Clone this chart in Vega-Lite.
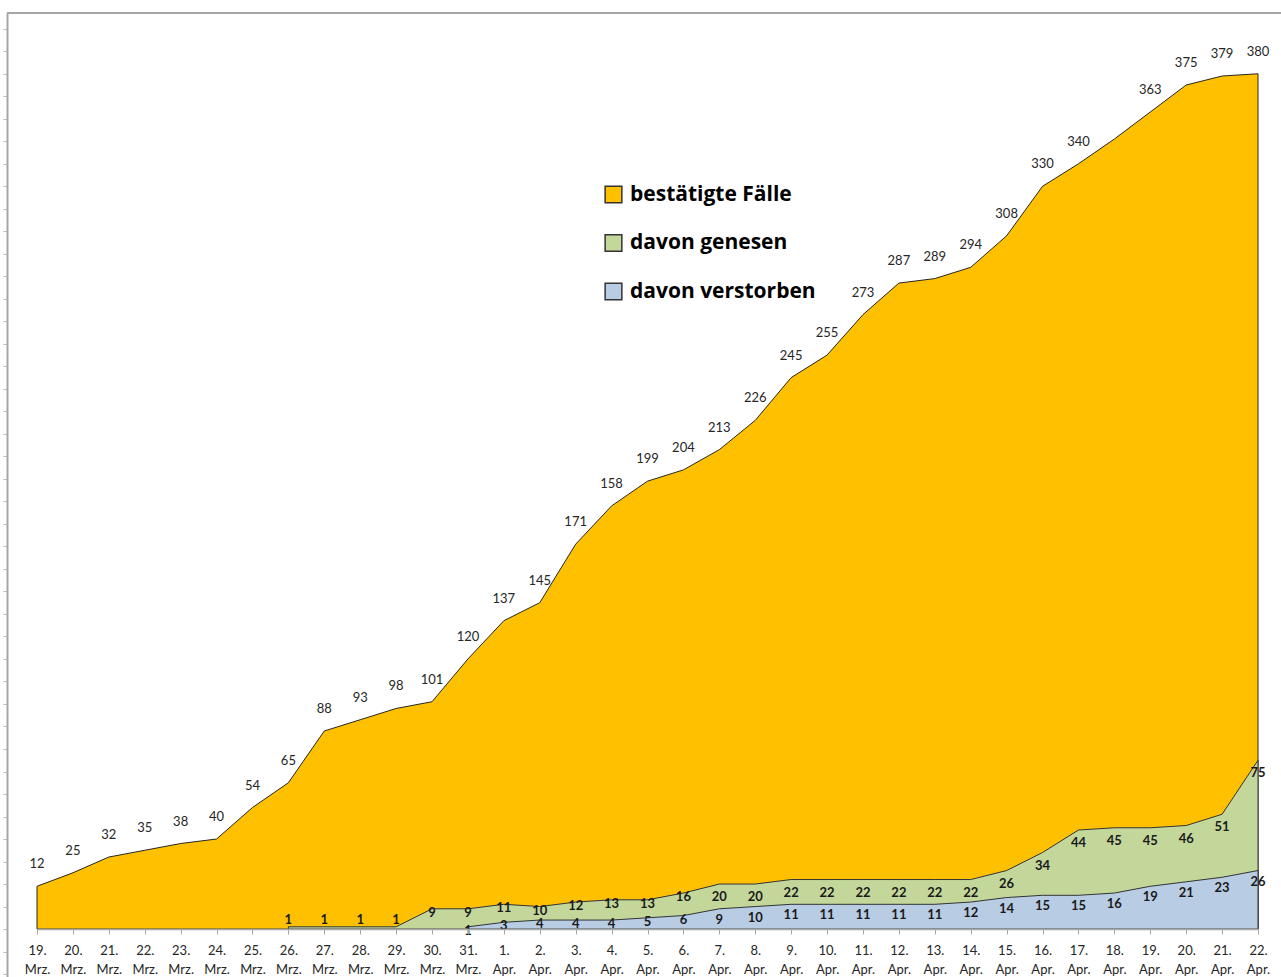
{
  "$schema": "https://vega.github.io/schema/vega-lite/v6.json",
  "width": 1274,
  "height": 964,
  "autosize": {"type": "none"},
  "padding": {"left": 7, "top": 13, "right": 0, "bottom": 0},
  "background": "white",
  "config": {"view": {"stroke": null}, "font": "Lato"},
  "data": {"values": [
    {"date": "19. Mrz.", "series": "bestätigte Fälle", "value": 19, "label": "12"},
    {"date": "20. Mrz.", "series": "bestätigte Fälle", "value": 25, "label": "25"},
    {"date": "21. Mrz.", "series": "bestätigte Fälle", "value": 32, "label": "32"},
    {"date": "22. Mrz.", "series": "bestätigte Fälle", "value": 35, "label": "35"},
    {"date": "23. Mrz.", "series": "bestätigte Fälle", "value": 38, "label": "38"},
    {"date": "24. Mrz.", "series": "bestätigte Fälle", "value": 40, "label": "40"},
    {"date": "25. Mrz.", "series": "bestätigte Fälle", "value": 54, "label": "54"},
    {"date": "26. Mrz.", "series": "bestätigte Fälle", "value": 65, "label": "65"},
    {"date": "27. Mrz.", "series": "bestätigte Fälle", "value": 88, "label": "88"},
    {"date": "28. Mrz.", "series": "bestätigte Fälle", "value": 93, "label": "93"},
    {"date": "29. Mrz.", "series": "bestätigte Fälle", "value": 98, "label": "98"},
    {"date": "30. Mrz.", "series": "bestätigte Fälle", "value": 101, "label": "101"},
    {"date": "31. Mrz.", "series": "bestätigte Fälle", "value": 120, "label": "120"},
    {"date": "1. Apr.", "series": "bestätigte Fälle", "value": 137, "label": "137"},
    {"date": "2. Apr.", "series": "bestätigte Fälle", "value": 145, "label": "145"},
    {"date": "3. Apr.", "series": "bestätigte Fälle", "value": 171, "label": "171"},
    {"date": "4. Apr.", "series": "bestätigte Fälle", "value": 188, "label": "158"},
    {"date": "5. Apr.", "series": "bestätigte Fälle", "value": 199, "label": "199"},
    {"date": "6. Apr.", "series": "bestätigte Fälle", "value": 204, "label": "204"},
    {"date": "7. Apr.", "series": "bestätigte Fälle", "value": 213, "label": "213"},
    {"date": "8. Apr.", "series": "bestätigte Fälle", "value": 226, "label": "226"},
    {"date": "9. Apr.", "series": "bestätigte Fälle", "value": 245, "label": "245"},
    {"date": "10. Apr.", "series": "bestätigte Fälle", "value": 255, "label": "255"},
    {"date": "11. Apr.", "series": "bestätigte Fälle", "value": 273, "label": "273"},
    {"date": "12. Apr.", "series": "bestätigte Fälle", "value": 287, "label": "287"},
    {"date": "13. Apr.", "series": "bestätigte Fälle", "value": 289, "label": "289"},
    {"date": "14. Apr.", "series": "bestätigte Fälle", "value": 294, "label": "294"},
    {"date": "15. Apr.", "series": "bestätigte Fälle", "value": 308, "label": "308"},
    {"date": "16. Apr.", "series": "bestätigte Fälle", "value": 330, "label": "330"},
    {"date": "17. Apr.", "series": "bestätigte Fälle", "value": 340, "label": "340"},
    {"date": "18. Apr.", "series": "bestätigte Fälle", "value": 351, "label": null},
    {"date": "19. Apr.", "series": "bestätigte Fälle", "value": 363, "label": "363"},
    {"date": "20. Apr.", "series": "bestätigte Fälle", "value": 375, "label": "375"},
    {"date": "21. Apr.", "series": "bestätigte Fälle", "value": 379, "label": "379"},
    {"date": "22. Apr.", "series": "bestätigte Fälle", "value": 380, "label": "380"},
    {"date": "26. Mrz.", "series": "davon genesen", "value": 1, "label": "1"},
    {"date": "27. Mrz.", "series": "davon genesen", "value": 1, "label": "1"},
    {"date": "28. Mrz.", "series": "davon genesen", "value": 1, "label": "1"},
    {"date": "29. Mrz.", "series": "davon genesen", "value": 1, "label": "1"},
    {"date": "30. Mrz.", "series": "davon genesen", "value": 9, "label": "9"},
    {"date": "31. Mrz.", "series": "davon genesen", "value": 9, "label": "9"},
    {"date": "1. Apr.", "series": "davon genesen", "value": 11, "label": "11"},
    {"date": "2. Apr.", "series": "davon genesen", "value": 10, "label": "10"},
    {"date": "3. Apr.", "series": "davon genesen", "value": 12, "label": "12"},
    {"date": "4. Apr.", "series": "davon genesen", "value": 13, "label": "13"},
    {"date": "5. Apr.", "series": "davon genesen", "value": 13, "label": "13"},
    {"date": "6. Apr.", "series": "davon genesen", "value": 16, "label": "16"},
    {"date": "7. Apr.", "series": "davon genesen", "value": 20, "label": "20"},
    {"date": "8. Apr.", "series": "davon genesen", "value": 20, "label": "20"},
    {"date": "9. Apr.", "series": "davon genesen", "value": 22, "label": "22"},
    {"date": "10. Apr.", "series": "davon genesen", "value": 22, "label": "22"},
    {"date": "11. Apr.", "series": "davon genesen", "value": 22, "label": "22"},
    {"date": "12. Apr.", "series": "davon genesen", "value": 22, "label": "22"},
    {"date": "13. Apr.", "series": "davon genesen", "value": 22, "label": "22"},
    {"date": "14. Apr.", "series": "davon genesen", "value": 22, "label": "22"},
    {"date": "15. Apr.", "series": "davon genesen", "value": 26, "label": "26"},
    {"date": "16. Apr.", "series": "davon genesen", "value": 34, "label": "34"},
    {"date": "17. Apr.", "series": "davon genesen", "value": 44, "label": "44"},
    {"date": "18. Apr.", "series": "davon genesen", "value": 45, "label": "45"},
    {"date": "19. Apr.", "series": "davon genesen", "value": 45, "label": "45"},
    {"date": "20. Apr.", "series": "davon genesen", "value": 46, "label": "46"},
    {"date": "21. Apr.", "series": "davon genesen", "value": 51, "label": "51"},
    {"date": "22. Apr.", "series": "davon genesen", "value": 75, "label": "75"},
    {"date": "31. Mrz.", "series": "davon verstorben", "value": 1, "label": "1"},
    {"date": "1. Apr.", "series": "davon verstorben", "value": 3, "label": "3"},
    {"date": "2. Apr.", "series": "davon verstorben", "value": 4, "label": "4"},
    {"date": "3. Apr.", "series": "davon verstorben", "value": 4, "label": "4"},
    {"date": "4. Apr.", "series": "davon verstorben", "value": 4, "label": "4"},
    {"date": "5. Apr.", "series": "davon verstorben", "value": 5, "label": "5"},
    {"date": "6. Apr.", "series": "davon verstorben", "value": 6, "label": "6"},
    {"date": "7. Apr.", "series": "davon verstorben", "value": 9, "label": "9"},
    {"date": "8. Apr.", "series": "davon verstorben", "value": 10, "label": "10"},
    {"date": "9. Apr.", "series": "davon verstorben", "value": 11, "label": "11"},
    {"date": "10. Apr.", "series": "davon verstorben", "value": 11, "label": "11"},
    {"date": "11. Apr.", "series": "davon verstorben", "value": 11, "label": "11"},
    {"date": "12. Apr.", "series": "davon verstorben", "value": 11, "label": "11"},
    {"date": "13. Apr.", "series": "davon verstorben", "value": 11, "label": "11"},
    {"date": "14. Apr.", "series": "davon verstorben", "value": 12, "label": "12"},
    {"date": "15. Apr.", "series": "davon verstorben", "value": 14, "label": "14"},
    {"date": "16. Apr.", "series": "davon verstorben", "value": 15, "label": "15"},
    {"date": "17. Apr.", "series": "davon verstorben", "value": 15, "label": "15"},
    {"date": "18. Apr.", "series": "davon verstorben", "value": 16, "label": "16"},
    {"date": "19. Apr.", "series": "davon verstorben", "value": 19, "label": "19"},
    {"date": "20. Apr.", "series": "davon verstorben", "value": 21, "label": "21"},
    {"date": "21. Apr.", "series": "davon verstorben", "value": 23, "label": "23"},
    {"date": "22. Apr.", "series": "davon verstorben", "value": 26, "label": "26"}
  ]},
  "layer": [
    {
      "encoding": {
        "x": {
          "field": "date", "type": "ordinal",
          "scale": {"type": "point", "padding": 0, "range": [30, 1251], "domain": ["19. Mrz.", "20. Mrz.", "21. Mrz.", "22. Mrz.", "23. Mrz.", "24. Mrz.", "25. Mrz.", "26. Mrz.", "27. Mrz.", "28. Mrz.", "29. Mrz.", "30. Mrz.", "31. Mrz.", "1. Apr.", "2. Apr.", "3. Apr.", "4. Apr.", "5. Apr.", "6. Apr.", "7. Apr.", "8. Apr.", "9. Apr.", "10. Apr.", "11. Apr.", "12. Apr.", "13. Apr.", "14. Apr.", "15. Apr.", "16. Apr.", "17. Apr.", "18. Apr.", "19. Apr.", "20. Apr.", "21. Apr.", "22. Apr."]},
          "axis": {"title": null, "labelAngle": 0, "labelExpr": "split(datum.label, ' ')", "labelFont": "Lato", "labelFontSize": 13, "labelColor": "#262626", "labelLineHeight": 19, "labelPadding": 10, "tickSize": 5, "tickColor": "#a6a6a6", "domainColor": "#a6a6a6", "domainWidth": 1.5, "offset": -48, "zindex": 1, "grid": false}
        },
        "y": {
          "field": "value", "type": "quantitative",
          "scale": {"domain": [-21.3, 407], "nice": false, "zero": false},
          "axis": {"title": null, "labels": false, "grid": false, "tickCount": 43, "tickSize": 4, "tickColor": "#bfbfbf", "domainColor": "#a6a6a6", "domainWidth": 2}
        }
      },
      "layer": [
        {
          "transform": [{"filter": "datum.series === 'bestätigte Fälle'"}],
          "mark": {"type": "area", "stroke": "#262626", "strokeWidth": 1, "fillOpacity": 1},
          "encoding": {
            "y2": {"datum": 0},
            "color": {"field": "series", "type": "nominal",
              "scale": {"domain": ["bestätigte Fälle", "davon genesen", "davon verstorben"], "range": ["#FFC000", "#C4D79B", "#B8CCE4"]},
              "legend": {"title": null, "orient": "none", "legendX": 596, "legendY": 171, "symbolType": "square", "symbolSize": 280, "symbolStrokeColor": "#404040", "symbolStrokeWidth": 1.5, "symbolOpacity": 1, "labelFont": "Open Sans", "labelFontSize": 21, "labelFontWeight": "bold", "labelColor": "#000000", "labelOffset": 6, "rowPadding": 25.5, "padding": 0, "labelLimit": 400}}
          }
        },
        {
          "transform": [{"filter": "datum.series === 'davon genesen'"}],
          "mark": {"type": "area", "stroke": "#333333", "strokeWidth": 1, "fillOpacity": 1},
          "encoding": {
            "y2": {"datum": 0},
            "color": {"field": "series", "type": "nominal",
              "scale": {"domain": ["bestätigte Fälle", "davon genesen", "davon verstorben"], "range": ["#FFC000", "#C4D79B", "#B8CCE4"]}}
          }
        },
        {
          "transform": [{"filter": "datum.series === 'davon verstorben'"}],
          "mark": {"type": "area", "stroke": "#333333", "strokeWidth": 1, "fillOpacity": 1},
          "encoding": {
            "y2": {"datum": 0},
            "color": {"field": "series", "type": "nominal",
              "scale": {"domain": ["bestätigte Fälle", "davon genesen", "davon verstorben"], "range": ["#FFC000", "#C4D79B", "#B8CCE4"]}}
          }
        },
        {
          "transform": [{"filter": "datum.series === 'bestätigte Fälle' && isValid(datum.label)"}],
          "mark": {"type": "text", "font": "Lato", "fontSize": 13, "color": "#262626", "baseline": "middle", "dy": -22},
          "encoding": {"text": {"field": "label"}}
        },
        {
          "transform": [{"filter": "datum.series === 'davon genesen' && datum.value >= 20"}],
          "mark": {"type": "text", "font": "Lato", "fontSize": 13, "fontWeight": "bold", "color": "#1a1a1a", "baseline": "middle", "dy": 13},
          "encoding": {"text": {"field": "label"}}
        },
        {
          "transform": [{"filter": "datum.series === 'davon genesen' && datum.value > 1 && datum.value < 20"}],
          "mark": {"type": "text", "font": "Lato", "fontSize": 13, "fontWeight": "bold", "color": "#1a1a1a", "baseline": "middle", "dy": 4},
          "encoding": {"text": {"field": "label"}}
        },
        {
          "transform": [{"filter": "datum.series === 'davon genesen' && datum.value <= 1"}],
          "mark": {"type": "text", "font": "Lato", "fontSize": 13, "fontWeight": "bold", "color": "#1a1a1a", "baseline": "middle", "dy": -7},
          "encoding": {"text": {"field": "label"}}
        },
        {
          "transform": [{"filter": "datum.series === 'davon verstorben' && datum.value > 6"}],
          "mark": {"type": "text", "font": "Lato", "fontSize": 13, "fontWeight": "bold", "color": "#1a1a1a", "baseline": "middle", "dy": 11},
          "encoding": {"text": {"field": "label"}}
        },
        {
          "transform": [{"filter": "datum.series === 'davon verstorben' && datum.value <= 6"}],
          "mark": {"type": "text", "font": "Lato", "fontSize": 13, "fontWeight": "bold", "color": "#1a1a1a", "baseline": "middle", "dy": 4},
          "encoding": {"text": {"field": "label"}}
        }
      ]
    },
    {
      "mark": {"type": "rule", "color": "#a6a6a6", "strokeWidth": 2},
      "encoding": {"y": {"datum": 407}}
    }
  ]
}
